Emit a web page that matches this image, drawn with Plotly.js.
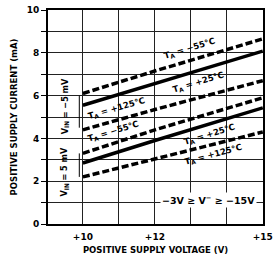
<!DOCTYPE html>
<html><head><meta charset="utf-8">
<script src="https://cdn.plot.ly/plotly-3.0.1.min.js"></script>
<style>html,body{margin:0;padding:0;background:#fff}</style>
</head><body><div id="chart" style="width:273px;height:263px"></div>
<script>
var supplyVoltage = [10, 12, 15];
var neg5mV_m55 = [6.1, 7.15, 8.65];
var neg5mV_p25 = [5.55, 6.55, 8.08];
var neg5mV_p125 = [4.4, 5.35, 6.7];
var pos5mV_m55 = [3.3, 4.4, 5.9];
var pos5mV_p25 = [2.85, 3.9, 5.43];
var pos5mV_p125 = [2.2, 3.05, 4.3];
var xTickVals = [10, 11, 12, 13, 14, 15];
var xTickText = ["+10", "", "+12", "", "", "+15"];
var yTickVals = [0,1,2,3,4,5,6,7,8,9,10];
var yTickText = ["0","","2","","4","","6","","8","","10"];

var F = "DejaVu Sans, Arial, sans-serif";
var FC = "DejaVu Sans Condensed, DejaVu Sans, Arial, sans-serif";
var dashStyle = "7px,3px";
function tr(y, dashed){
  return {x: supplyVoltage, y: y, mode: "lines", hoverinfo: "skip",
    line: {color: "#000", width: 3.5, dash: dashed ? dashStyle : "solid"}};
}
var data = [
  tr(neg5mV_m55, true), tr(neg5mV_p25, false), tr(neg5mV_p125, true),
  tr(pos5mV_m55, true), tr(pos5mV_p25, false), tr(pos5mV_p125, true)
];
function lab(x, y, t, ang){
  return {x: x, y: y, xref: "x", yref: "y", text: t, showarrow: false,
    textangle: ang, font: {family: F, size: 8.5, color: "#000", weight: "bold"}};
}
var ann = [
  lab(12.97, 8.22, "T<sub>A</sub> = −55°C", -17),
  lab(13.2, 6.6, "T<sub>A</sub> = +25°C", -17),
  lab(10.92, 5.42, "T<sub>A</sub> = +125°C", -16),
  lab(10.84, 4.3, "T<sub>A</sub> = −55°C", -17),
  lab(13.53, 4.18, "T<sub>A</sub> = +25°C", -17),
  lab(13.64, 3.24, "T<sub>A</sub> = +125°C", -15),
  {x: 9.5, y: 5.5, xref: "x", yref: "y", text: "V<sub>IN</sub> = −5 mV", showarrow: false,
    textangle: -90, font: {family: FC, size: 9, color: "#000", weight: "bold"}},
  {x: 9.5, y: 2.45, xref: "x", yref: "y", text: "V<sub>IN</sub> = 5 mV", showarrow: false,
    textangle: -90, font: {family: FC, size: 9, color: "#000", weight: "bold"}},
  {x: 13.5, y: 1.1, xref: "x", yref: "y", text: "−3V ≥ V<sup>−</sup> ≥ −15V", showarrow: false,
    bgcolor: "#fff", borderpad: 1, font: {family: F, size: 9.5, color: "#000", weight: "bold"}}
];
var shapes = [
  {type: "line", xref: "x", yref: "y", x0: 9.9, x1: 9.9, y0: 4.5, y1: 6.0, line: {color: "#000", width: 1}},
  {type: "line", xref: "x", yref: "y", x0: 9.9, x1: 9.9, y0: 2.2, y1: 3.3, line: {color: "#000", width: 1}}
];
var layout = {
  width: 273, height: 263,
  margin: {l: 48, r: 10, t: 10, b: 39},
  paper_bgcolor: "#fff", plot_bgcolor: "#fff",
  showlegend: false,
  font: {family: F, color: "#000"},
  xaxis: {range: [9.03, 15.005], tickvals: xTickVals, ticktext: xTickText,
    showgrid: true, gridcolor: "#222", gridwidth: 1, zeroline: false,
    showline: true, linecolor: "#000", linewidth: 2, mirror: true, ticks: "",
    ticklabelstandoff: 3, ticklabeloverflow: "allow",
    tickfont: {family: F, size: 9, color: "#000", weight: "bold"},
    title: {text: "POSITIVE SUPPLY VOLTAGE (V)", standoff: 6,
      font: {family: F, size: 8.5, color: "#000", weight: "bold"}}},
  yaxis: {range: [0, 10], tickvals: yTickVals, ticktext: yTickText,
    showgrid: true, gridcolor: "#222", gridwidth: 1, zeroline: false,
    showline: true, linecolor: "#000", linewidth: 2, mirror: true,
    ticks: "outside", ticklen: 5, tickcolor: "#000",
    tickfont: {family: F, size: 9, color: "#000", weight: "bold"},
    title: {text: "POSITIVE SUPPLY CURRENT (mA)", standoff: 8,
      font: {family: F, size: 8.5, color: "#000", weight: "bold"}}},
  annotations: ann, shapes: shapes
};
Plotly.newPlot("chart", data, layout, {staticPlot: true, displayModeBar: false});
</script></body></html>
